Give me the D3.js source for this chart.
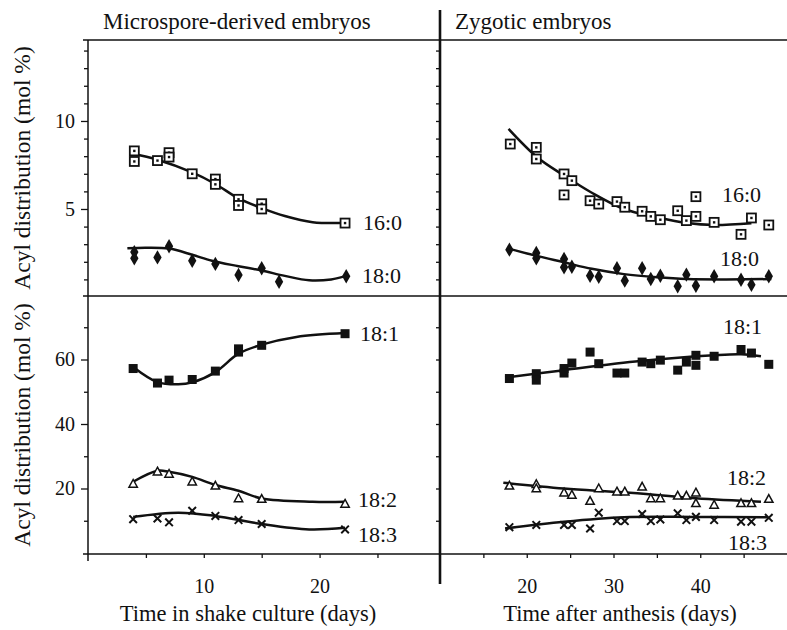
<!DOCTYPE html>
<html><head><meta charset="utf-8">
<script src="https://cdn.jsdelivr.net/npm/d3@7"></script>
</head>
<body style="margin:0;padding:0;background:#fff;">
<svg id="chart" width="787" height="630" font-family="Liberation Serif" style="display:block"></svg>
<script>
// ---------- DATA ----------
// Microspore-derived embryos (days in shake culture)
const md_16_0_x = [4,4,6,7,7,9,11,11,13,13,15,15,22.2];
const md_16_0_y = [8.3,7.7,7.75,8.2,7.95,7.0,6.7,6.4,5.55,5.2,5.3,5.0,4.2];
const md_16_0_fitx = [3.8,6,9,11,13,15,17,19.4,21.8];
const md_16_0_fity = [8.15,7.8,7.08,6.42,5.6,5.05,4.6,4.25,4.2];

const md_18_0_x = [4,4,6,7,9,11,13,15,16.5,22.3];
const md_18_0_y = [2.55,2.2,2.25,2.88,2.06,1.88,1.25,1.63,0.87,1.18];
const md_18_0_fitx = [3.4,5,7,9,10.7,13,15,17,19.1,21,22.3];
const md_18_0_fity = [2.77,2.8,2.75,2.4,2.06,1.75,1.5,1.2,0.95,1.0,1.2];

const md_18_1_x = [3.9,6,7,9,11,13,13,15,22.2];
const md_18_1_y = [57.2,52.7,53.6,53.8,56.4,62.3,63.3,64.4,68.0];
const md_18_1_fitx = [3.9,6,7.8,9,11,13,15,18,22.2];
const md_18_1_fity = [57.7,53,52.3,52.9,56.1,61.8,64.6,67,68.2];

const md_18_2_x = [3.9,6,7,9,11,13,15,22.2];
const md_18_2_y = [21.4,25.2,24.5,22.1,20.8,16.9,16.7,15.2];
const md_18_2_fitx = [3.9,6,7,9,11,13,15,19.4,22.2];
const md_18_2_fity = [22.1,25.5,25.2,23.6,21.1,19.3,16.9,15.9,15.9];

const md_18_3_x = [3.9,6,7,9,11,13,15,22.2];
const md_18_3_y = [10.5,10.7,9.5,13.1,11.5,10.2,9.0,7.3];
const md_18_3_fitx = [3.9,7.8,11,15,19.1,22.2];
const md_18_3_fity = [11.2,12.5,11.5,9.0,7.3,7.8];

// Zygotic embryos (days after anthesis)
const zy_16_0_x = [18.1,21.1,21.1,24.3,25.2,24.3,27.3,28.3,30.4,31.3,33.3,34.3,35.4,37.4,38.4,39.5,39.5,41.6,44.7,45.9,47.9];
const zy_16_0_y = [8.69,8.5,7.84,6.99,6.61,5.8,5.47,5.28,5.42,5.1,4.87,4.58,4.39,4.9,4.34,5.7,4.58,4.24,3.56,4.49,4.09];
const zy_16_0_fitx = [17.9,21.2,24.3,27.4,31.2,35,38.5,41.6,45.9];
const zy_16_0_fity = [9.55,7.94,6.9,5.95,5.0,4.53,4.2,4.09,4.19];

const zy_18_0_x = [18,21.1,21.1,24.3,24.3,25.2,27.3,28.3,30.4,31.3,33.3,34.3,35.4,37.4,38.4,39.5,41.6,44.7,45.9,47.9];
const zy_18_0_y = [2.69,2.5,2.2,2.16,1.69,1.72,1.21,1.15,1.63,0.93,1.63,1.02,1.21,0.61,1.27,0.64,1.18,0.98,0.7,1.18];
const zy_18_0_fitx = [17.7,21,24.3,27.5,31.2,35,38.5,43,48.2];
const zy_18_0_fity = [2.77,2.35,1.97,1.6,1.3,1.12,1.02,1.0,1.02];

const zy_18_1_x = [18,21.1,21.1,24.3,24.3,25.2,27.3,28.3,30.4,31.3,33.3,34.3,35.4,37.4,38.4,39.5,39.5,41.6,44.7,45.9,47.9];
const zy_18_1_y = [54.1,55.6,53.6,57.2,55.8,58.9,62.3,58.7,55.8,55.8,59.2,58.7,59.8,56.7,59.2,61.3,58.2,61.0,63.1,62.0,58.5];
const zy_18_1_fitx = [17.5,24.3,33.1,41.6,44.7,47];
const zy_18_1_fity = [54.4,56.7,59.5,61.3,61.6,61.0];

const zy_18_2_x = [18,21.1,21.1,24.3,25.2,27.3,28.3,30.4,31.3,33.3,34.3,35.4,37.4,38.4,39.5,39.5,41.6,44.7,45.9,47.9];
const zy_18_2_y = [20.8,21.3,20.0,18.7,18.0,16.1,20.0,19.0,19.0,20.5,16.9,16.9,17.7,17.7,18.7,15.4,14.9,15.4,15.4,16.7];
const zy_18_2_fitx = [17.3,24.3,31.2,39.5,47];
const zy_18_2_fity = [21.8,20.0,18.8,17.0,15.9];

const zy_18_3_x = [18,21.1,24.3,25.2,27.3,28.3,30.4,31.3,33.3,34.3,35.4,37.4,38.4,39.5,41.6,44.7,45.9,47.9];
const zy_18_3_y = [8.0,8.7,8.7,8.7,7.6,12.5,9.9,9.9,12.1,9.9,10.4,12.3,10.2,11.2,10.2,9.7,9.7,10.9];
const zy_18_3_fitx = [17.5,24.3,31.2,39.3,47.8];
const zy_18_3_fity = [7.6,9.7,11.1,11.2,11.1];

// Tick labels / text
const topYTicks = [5,10];
const botYTicks = [20,40,60];
const leftXTicks = [10,20];
const rightXTicks = [20,30,40];
const panelTitles = ["Microspore-derived embryos","Zygotic embryos"];
const xTitles = ["Time in shake culture (days)","Time after anthesis (days)"];
const yTitle = "Acyl distribution (mol %)";

// ---------- DRAW ----------
const FONT = "Liberation Serif";
const svg = d3.select("#chart");
const xL = d3.scaleLinear().domain([0,30.4]).range([88,440]);
const xR = d3.scaleLinear().domain([10,50]).range([440,787]);
const yT = d3.scaleLinear().domain([0,14.6]).range([297,40]);
const yB = d3.scaleLinear().domain([0,80]).range([553,295]);

const ink = "#111";

function txt(x,y,s,size,anchor){
  return svg.append("text").attr("x",x).attr("y",y).attr("text-anchor",anchor||"start")
    .attr("font-family",FONT).style("font-family",FONT).attr("font-size",size).style("font-size",size+"px").attr("fill",ink).text(s);
}
function hline(y,x1,x2,w){svg.append("line").attr("x1",x1).attr("x2",x2).attr("y1",y).attr("y2",y).attr("stroke",ink).attr("stroke-width",w);}
function vline(x,y1,y2,w){svg.append("line").attr("x1",x).attr("x2",x).attr("y1",y1).attr("y2",y2).attr("stroke",ink).attr("stroke-width",w);}
hline(40,83,787,1.5);
hline(296,83,787,1.5);
hline(554,83,787,1.5);
vline(88,40,561,1.5);
vline(440,10,584,2.6);

function yAxis(scale, x, minor, labels){
  const g = svg.append("g").attr("transform",`translate(${x},0)`);
  const ax = d3.axisLeft(scale).tickValues(minor).tickSize(4)
    .tickFormat(d => (labels && labels.includes(d)) ? d : "");
  g.call(ax);
  g.attr("font-family",FONT).attr("font-size",20);
  g.select(".domain").remove();
  g.selectAll(".tick line").attr("stroke",ink).attr("stroke-width",1.3)
    .attr("x2", d => (labels ? (labels.includes(d)? -7 : -4) : -4));
  g.selectAll(".tick text").attr("x",-13).attr("font-family",FONT).style("font-family",FONT).style("font-size","20px").attr("fill",ink);
}
yAxis(yT, 88, d3.range(1,15), topYTicks);
yAxis(yB, 88, d3.range(10,80,10), botYTicks);
yAxis(yT, 440, d3.range(1,15), null);
yAxis(yB, 440, d3.range(10,80,10), null);

function xAxis(scale, ticks, labels){
  const g = svg.append("g").attr("transform","translate(0,554)");
  g.call(d3.axisBottom(scale).tickValues(ticks).tickSize(4).tickPadding(21)
    .tickFormat(d => labels.includes(d) ? d : ""));
  g.attr("font-family",FONT).attr("font-size",20);
  g.select(".domain").remove();
  g.selectAll(".tick line").attr("stroke",ink).attr("stroke-width",1.3);
  g.selectAll(".tick text").attr("font-family",FONT).style("font-family",FONT).style("font-size","20px").attr("fill",ink);
}
xAxis(xL, [5,10,15,20,25], leftXTicks);
xAxis(xR, [15,20,25,30,35,40,45], rightXTicks);

txt(103,29,panelTitles[0],23);
txt(455,29,panelTitles[1],23);
txt(248,621,xTitles[0],22.5,"middle");
txt(620,621,xTitles[1],22.5,"middle");
[168,425].forEach(cy => {
  txt(0,0,yTitle,23.5,"middle").attr("transform",`translate(30,${cy}) rotate(-90)`);
});

const sym = {
  openSq: (g) => { g.append("rect").attr("x",-4.5).attr("y",-4.5).attr("width",9).attr("height",9).attr("fill","#fff").attr("stroke",ink).attr("stroke-width",1.8);
                   g.append("rect").attr("x",-1.2).attr("y",-1.2).attr("width",2.4).attr("height",2.4).attr("fill",ink); },
  diamond: (g) => { g.append("path").attr("d",d3.symbol(d3.symbolDiamond,60)()).attr("fill",ink); },
  fillSq: (g) => { g.append("rect").attr("x",-4.5).attr("y",-4.5).attr("width",9).attr("height",9).attr("fill",ink); },
  tri: (g) => { g.append("path").attr("d","M0,-4.5L4.2,3.2L-4.2,3.2Z").attr("fill","#fff").attr("stroke",ink).attr("stroke-width",1.5); },
  cross: (g) => { g.append("path").attr("d","M-3.8,-3.8L3.8,3.8M-3.8,3.8L3.8,-3.8").attr("stroke",ink).attr("stroke-width",2).attr("fill","none"); }
};

function series(xs, ys, fx, fy, xs_, ys_, kind){
  const line = d3.line().x(d=>xs_(d[0])).y(d=>ys_(d[1])).curve(d3.curveCatmullRom.alpha(0.5));
  svg.append("path").attr("d", line(d3.zip(fx,fy))).attr("fill","none").attr("stroke",ink).attr("stroke-width",2.5);
  d3.zip(xs,ys).forEach(p => {
    const g = svg.append("g").attr("transform",`translate(${xs_(p[0])},${ys_(p[1])})`);
    sym[kind](g);
  });
}
series(md_16_0_x, md_16_0_y, md_16_0_fitx, md_16_0_fity, xL, yT, "openSq");
series(md_18_0_x, md_18_0_y, md_18_0_fitx, md_18_0_fity, xL, yT, "diamond");
series(md_18_1_x, md_18_1_y, md_18_1_fitx, md_18_1_fity, xL, yB, "fillSq");
series(md_18_2_x, md_18_2_y, md_18_2_fitx, md_18_2_fity, xL, yB, "tri");
series(md_18_3_x, md_18_3_y, md_18_3_fitx, md_18_3_fity, xL, yB, "cross");
series(zy_16_0_x, zy_16_0_y, zy_16_0_fitx, zy_16_0_fity, xR, yT, "openSq");
series(zy_18_0_x, zy_18_0_y, zy_18_0_fitx, zy_18_0_fity, xR, yT, "diamond");
series(zy_18_1_x, zy_18_1_y, zy_18_1_fitx, zy_18_1_fity, xR, yB, "fillSq");
series(zy_18_2_x, zy_18_2_y, zy_18_2_fitx, zy_18_2_fity, xR, yB, "tri");
series(zy_18_3_x, zy_18_3_y, zy_18_3_fitx, zy_18_3_fity, xR, yB, "cross");

const seriesLabels = [
  ["16:0",363,230],["18:0",362,283],["18:1",360,341],["18:2",358,507],["18:3",358,542],
  ["16:0",722,202],["18:0",720,266],["18:1",723,334],["18:2",727,485],["18:3",728,550]
];
seriesLabels.forEach(([t,x,y]) => txt(x,y,t,22));
</script>
</body></html>
